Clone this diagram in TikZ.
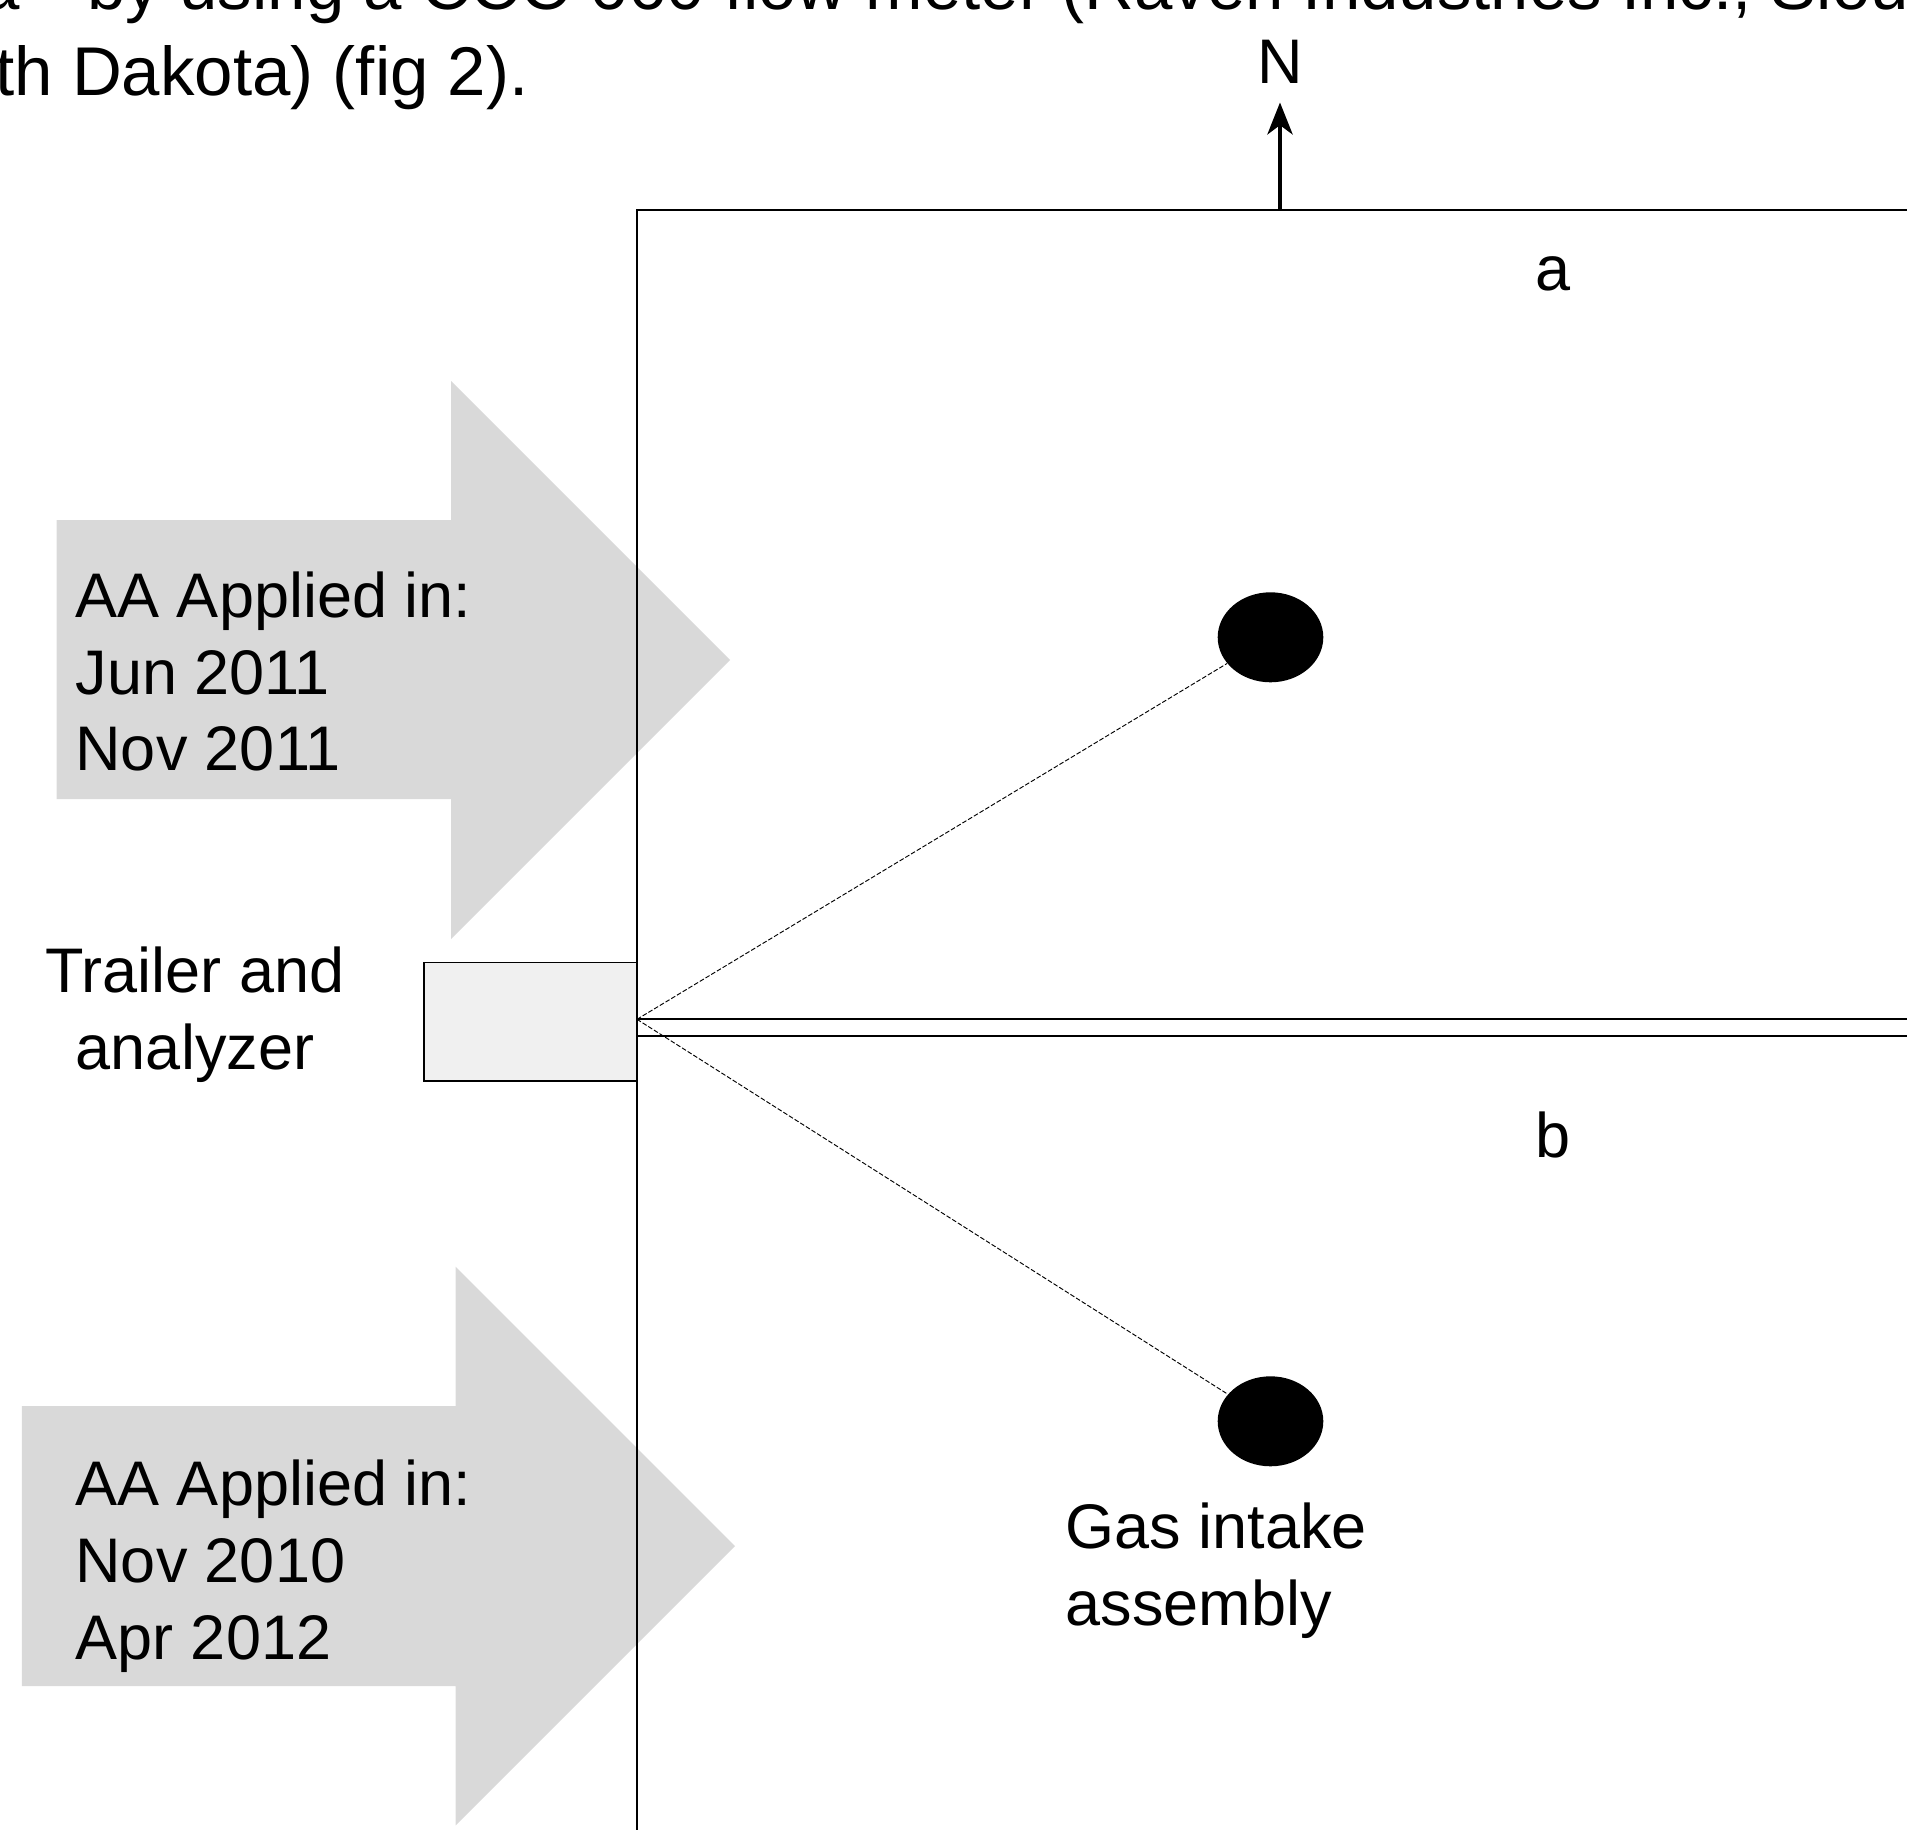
\documentclass[tikz,border=0pt]{standalone}
\usepackage{fontspec}
\setmainfont{Liberation Sans}
\usetikzlibrary{shapes.geometric,arrows.meta}

\definecolor{applygray}{RGB}{217,217,217}
\definecolor{trailergray}{RGB}{240,240,240}

\tikzset{every picture/.style={line width=0.75pt}}
\tikzset{
  lbl/.style={inner sep=0pt,font=\fontsize{47.25}{57.5}\selectfont},
  para/.style={inner sep=0pt,font=\fontsize{51.75}{62}\selectfont},
  fieldline/.style={line width=1.3pt},
  hose/.style={line width=0.7pt,dash pattern={on 3.5pt off 1.5pt}},
  intake/.style={ellipse,fill=black,inner sep=0pt,minimum width=79.2pt,minimum height=67.5pt},
  trailerbox/.style={rectangle,draw,fill=trailergray,line width=1pt,inner sep=0pt,minimum width=159.5pt,minimum height=89pt},
  applyarrow/.style={fill=applygray,draw=none},
  northarrow/.style={line width=2.6pt,shorten >=13.5pt,-{Stealth[length=24pt,width=19pt,inset=7pt]}}
}

\begin{document}
\begin{tikzpicture}[x=0.75pt,y=0.75pt,yscale=-1,xscale=1]
\useasboundingbox (0,0) rectangle (1907,1830);
\clip (0,0) rectangle (1907,1830);

%Shape: Right Arrow (upper plot)
\fill [applyarrow] (56.7,520) -- (451,520) -- (451,381) -- (730,660) -- (451,939) -- (451,799) -- (56.7,799) -- cycle ;
%Shape: Right Arrow (lower plot)
\fill [applyarrow] (21.8,1406) -- (455.6,1406) -- (455.6,1266.6) -- (735,1546) -- (455.6,1825.4) -- (455.6,1686) -- (21.8,1686) -- cycle ;

%Straight Lines: field edges
\draw [fieldline] (1915,210) -- (637,210) -- (637,1840) ;
\draw [fieldline] (637,1019.3) coordinate (split) -- (1915,1019.3) ;
\draw [fieldline] (637,1035.7) -- (1915,1035.7) ;

%Shape: Rectangle (trailer)
\node [trailerbox] (trailer) at (530.35,1021.65) {};

%Shape: Ellipse (intakes)
\node [intake] (intakeA) at (1270.5,637.3) {};
\node [intake] (intakeB) at (1270.5,1421.3) {};

%Straight Lines: sample lines
\draw [hose] (split) -- (intakeA) ;
\draw [hose] (split) -- (intakeB) ;

% Text Node
\node [lbl,anchor=base] (north) at (1280,84) {N};
%Straight Lines: north arrow
\coordinate (nfoot) at (1280,210);
\draw [northarrow] (nfoot) -- (north) ;

% Text Node
\node [lbl,anchor=base] (plotA) at (1553,290) {a};
% Text Node
\node [lbl,anchor=base] (plotB) at (1553,1157) {b};
% Text Node
\node [lbl,anchor=base west,align=left] (dateA) at (75,770.8) {AA Applied in:\\Jun 2011\\Nov 2011};
% Text Node
\node [lbl,anchor=base west,align=left] (dateB) at (75,1659) {AA Applied in:\\Nov 2010\\Apr 2012};
% Text Node
\node [lbl,anchor=base,align=center] (trailerlbl) at (195,1069) {Trailer and\\analyzer};
% Text Node
\node [lbl,anchor=base west,align=left] (intakelbl) at (1065,1625) {Gas intake\\assembly};

% Text Node
\node [para,anchor=base west] (textB) at (87,10) {by using a CCC 660 flow meter (Raven Industries Inc., Sioux Falls,};
% Text Node
\node [para,anchor=base east] (textA) at (66,10) {ha\raisebox{0.6em}{\fontsize{30}{36}\selectfont −1}};
% Text Node
\node [para,anchor=base east] (textC) at (529,96) {South Dakota) (fig 2).};

\end{tikzpicture}
\end{document}
